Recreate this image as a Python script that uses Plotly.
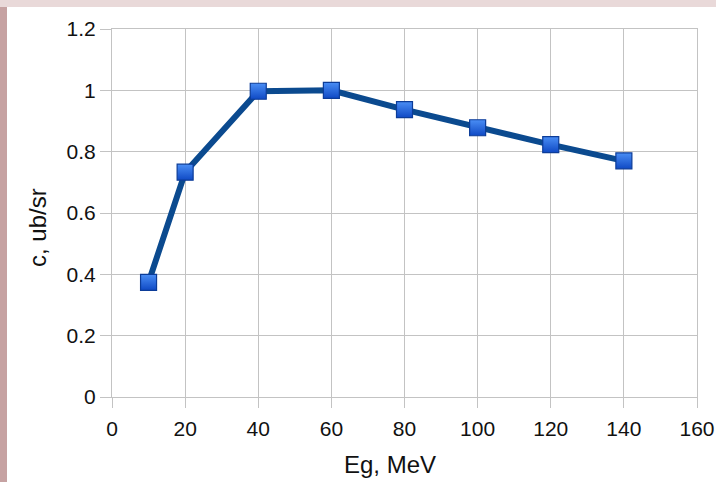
import plotly.graph_objects as go

energy = [10, 20, 40, 60, 80, 100, 120, 140]
cross_section = [0.374, 0.733, 0.997, 1.0, 0.937, 0.878, 0.823, 0.770]

x_ticks = [0, 20, 40, 60, 80, 100, 120, 140, 160]
y_ticks = [0, 0.2, 0.4, 0.6, 0.8, 1.0, 1.2]

x_title = "Eg, MeV"
y_title = "c, ub/sr"

W, H = 716, 482
ml, mr, mt, mb = 112, 19, 29, 85
pw, ph = W - ml - mr, H - mt - mb

def px_x(p):
    return (p - ml) / pw

def px_y(p):
    return 1 - (p - mt) / ph

fig = go.Figure()
fig.add_trace(go.Scatter(
    x=energy, y=cross_section, mode="lines+markers",
    line=dict(color="#0b4a8f", width=6),
    marker=dict(symbol="square", size=16, color="#4a8ef5",
                line=dict(color="#0c3c98", width=1.2),
                gradient=dict(type="vertical", color="#0f49c4")),
    showlegend=False, cliponaxis=False,
))

grid = "#c3c3c3"
fig.update_xaxes(range=[0, 160], tickvals=x_ticks, showgrid=True, gridcolor=grid,
                 gridwidth=1, showline=True, linecolor=grid, mirror=True,
                 ticks="outside", ticklen=10, tickcolor=grid, zeroline=False,
                 ticklabelstandoff=3,
                 automargin=False, tickfont=dict(size=21, color="#111"))
fig.update_yaxes(range=[0, 1.2], tickvals=y_ticks, showgrid=True, gridcolor=grid,
                 gridwidth=1, showline=True, linecolor=grid, mirror=True,
                 ticks="outside", ticklen=11, tickcolor=grid, zeroline=False,
                 automargin=False, tickfont=dict(size=21, color="#111"))

fig.add_annotation(text=x_title, xref="paper", yref="paper", x=px_x(390), y=px_y(464),
                   xanchor="center", yanchor="middle", showarrow=False,
                   font=dict(size=24, color="#111"))
fig.add_annotation(text=y_title, xref="paper", yref="paper", x=px_x(37), y=px_y(228),
                   xanchor="center", yanchor="middle", showarrow=False, textangle=-90,
                   font=dict(size=24, color="#111"))

fig.add_shape(type="rect", xref="paper", yref="paper", layer="below",
              x0=px_x(7), x1=px_x(W + 5), y0=px_y(H + 5), y1=px_y(7),
              fillcolor="white", line=dict(width=0))
fig.add_shape(type="rect", xref="paper", yref="paper", layer="below",
              x0=px_x(-5), x1=px_x(7), y0=px_y(H + 5), y1=px_y(7),
              fillcolor="#c6a2a2", line=dict(width=0))

fig.update_layout(
    width=W, height=H,
    margin=dict(l=ml, r=mr, t=mt, b=mb),
    paper_bgcolor="#e9d9d9", plot_bgcolor="rgba(0,0,0,0)",
    font=dict(family="Liberation Sans, Arial, sans-serif"),
)
fig.write_html("out.html", config={"displayModeBar": False},
               post_script="document.body.style.margin='0';document.body.style.overflow='hidden';")
